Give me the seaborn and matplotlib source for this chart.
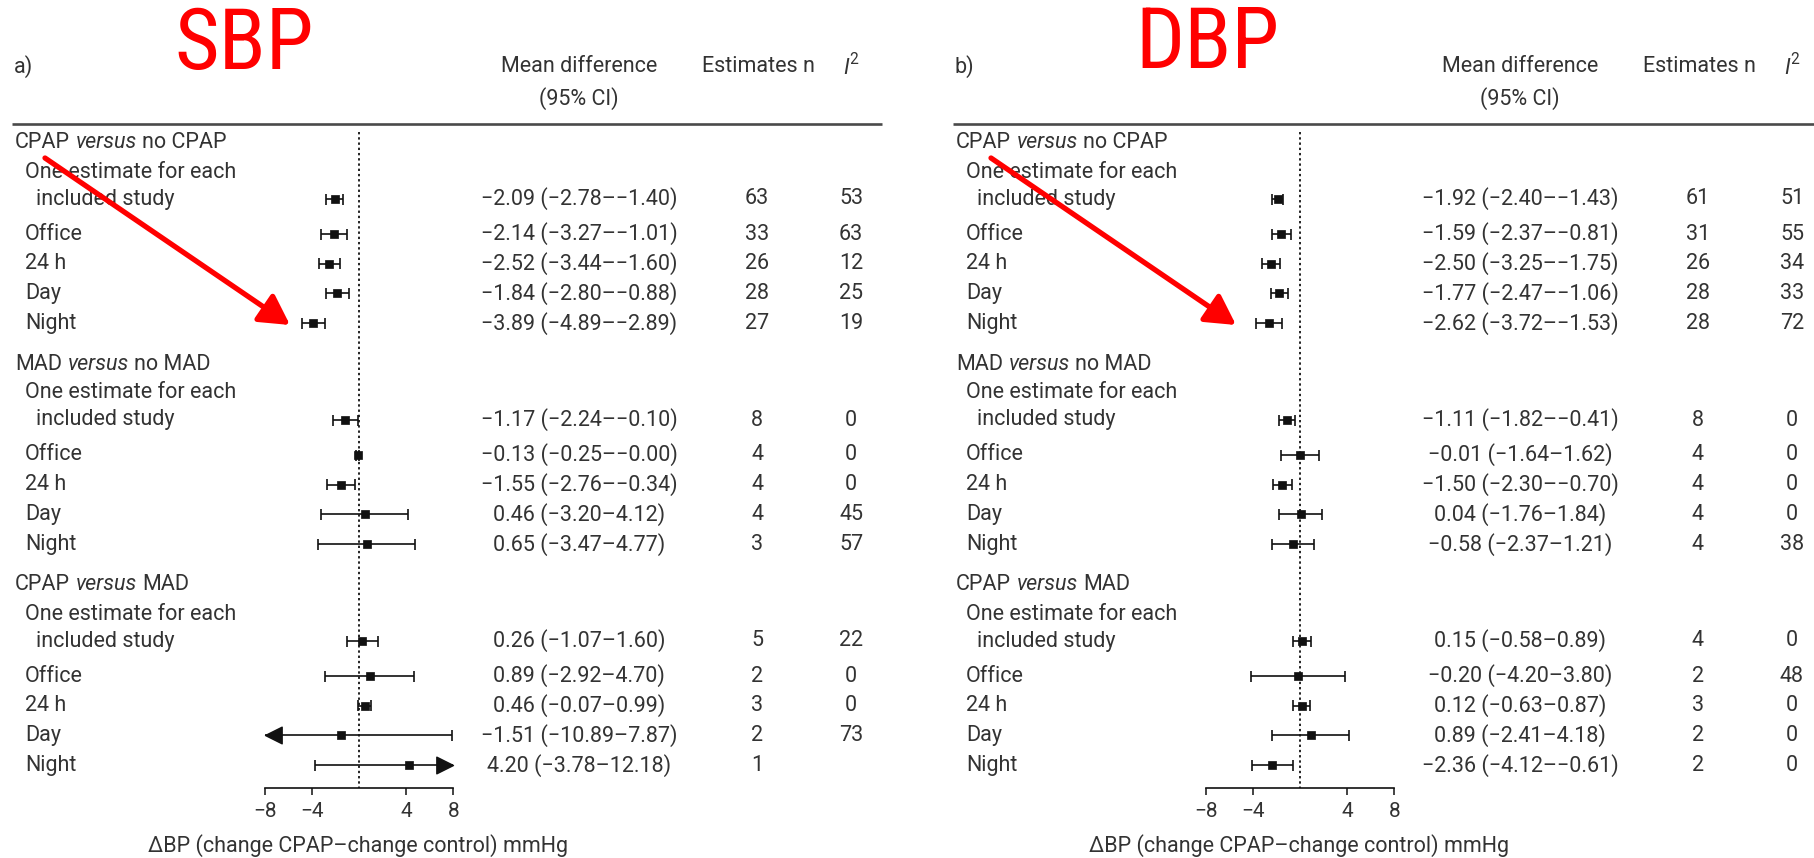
import matplotlib
matplotlib.use("Agg")
import matplotlib.pyplot as plt
import seaborn as sns
import pandas as pd
from matplotlib.path import Path
from matplotlib import font_manager
from matplotlib.font_manager import FontProperties

sns.set_theme(style="white")
plt.rcParams["font.family"] = ["Roboto", "DejaVu Sans"]

# ---------------------------------------------------------------- data
comparisons = [("CPAP", "no CPAP"), ("MAD", "no MAD"), ("CPAP", "MAD")]
outcomes = ["One estimate for each included study", "Office", "24 h", "Day", "Night"]

sbp_mean = [-2.09, -2.14, -2.52, -1.84, -3.89,
            -1.17, -0.13, -1.55, 0.46, 0.65,
            0.26, 0.89, 0.46, -1.51, 4.20]
sbp_lo = [-2.78, -3.27, -3.44, -2.80, -4.89,
          -2.24, -0.25, -2.76, -3.20, -3.47,
          -1.07, -2.92, -0.07, -10.89, -3.78]
sbp_hi = [-1.40, -1.01, -1.60, -0.88, -2.89,
          -0.10, -0.00, -0.34, 4.12, 4.77,
          1.60, 4.70, 0.99, 7.87, 12.18]
sbp_n = [63, 33, 26, 28, 27, 8, 4, 4, 4, 3, 5, 2, 3, 2, 1]
sbp_i2 = [53, 63, 12, 25, 19, 0, 0, 0, 45, 57, 22, 0, 0, 73, None]

dbp_mean = [-1.92, -1.59, -2.50, -1.77, -2.62,
            -1.11, -0.01, -1.50, 0.04, -0.58,
            0.15, -0.20, 0.12, 0.89, -2.36]
dbp_lo = [-2.40, -2.37, -3.25, -2.47, -3.72,
          -1.82, -1.64, -2.30, -1.76, -2.37,
          -0.58, -4.20, -0.63, -2.41, -4.12]
dbp_hi = [-1.43, -0.81, -1.75, -1.06, -1.53,
          -0.41, 1.62, -0.70, 1.84, 1.21,
          0.89, 3.80, 0.87, 4.18, -0.61]
dbp_n = [61, 31, 26, 28, 28, 8, 4, 4, 4, 4, 4, 2, 3, 2, 2]
dbp_i2 = [51, 55, 34, 33, 72, 0, 0, 0, 0, 38, 0, 48, 0, 0, 0]

panel_tags = ["a)", "b)"]
panel_titles = ["SBP", "DBP"]
x_ticks = [-8, -4, 4, 8]
x_limit = 8
x_label = "\u0394BP (change CPAP\u2013change control) mmHg"

# ---------------------------------------------------------------- layout (pixels)
W, H = 1814, 858
DPI = 100
TEXT = "#333333"
INK = "#111111"
FS = 15.5

PANEL_SHIFT = 941
AX_L, AX_R, AX_BOTTOM = 265.0, 453.3, 788.0
GROUP_TOP, GROUP_STEP = 143.0, 221.0
FIRST_LINE, FIRST_ROW, SECOND_ROW, ROW_STEP = 29.0, 56.0, 35.0, 29.7


def narrow_font():
    """Pick a condensed sans face for the big red titles, if one is installed."""
    preferred = ["Liberation Sans Narrow", "Roboto Condensed", "Noto Sans Condensed",
                 "DejaVu Sans Condensed", "Open Sans Condensed", "Noto Sans", "DejaVu Sans"]
    condensed = []
    for f in font_manager.fontManager.ttflist:
        label = (f.name + " " + f.fname).lower()
        is_narrow = ("narrow" in label or "condensed" in label
                     or f.stretch in ("condensed", "semi-condensed", "extra-condensed"))
        if not is_narrow or f.style != "normal":
            continue
        if "semi" in label or "extra" in label or "ultra" in label:
            continue
        w = f.weight if isinstance(f.weight, int) else 400
        if w != 400:
            continue
        condensed.append(f)
    for name in preferred:
        for f in condensed:
            if f.name == name:
                return FontProperties(fname=f.fname)
    if condensed:
        return FontProperties(fname=condensed[0].fname)
    return FontProperties(family=["Liberation Sans", "DejaVu Sans"])


TITLE_FONT = narrow_font()


def row_positions():
    heads, first_lines, rows = [], [], []
    for g in range(len(comparisons)):
        top = GROUP_TOP + g * GROUP_STEP
        heads.append(top)
        first_lines.append(top + FIRST_LINE)
        ys = [top + FIRST_ROW]
        ys.append(ys[-1] + SECOND_ROW)
        for _ in range(len(outcomes) - 2):
            ys.append(ys[-1] + ROW_STEP)
        rows.extend(ys)
    return heads, first_lines, rows


heads, first_lines, row_y = row_positions()


def fmt(v):
    return f"{v:.2f}".replace("-", "\u2212")


fig = plt.figure(figsize=(W / DPI, H / DPI), dpi=DPI)
fig.patch.set_facecolor("white")
bg = fig.add_axes([0, 0, 1, 1])
bg.set_xlim(0, W)
bg.set_ylim(H, 0)
bg.axis("off")
renderer = fig.canvas.get_renderer()


def text_width(s, **kw):
    t = bg.text(0, 0, s, fontsize=FS, **kw)
    w = t.get_window_extent(renderer).width
    t.remove()
    return w


SPACE = text_width("n n") - text_width("nn")


def rich_line(x, y, parts):
    for i, (s, style) in enumerate(parts):
        if i:
            x += SPACE
        t = bg.text(x, y, s, fontsize=FS, style=style, color=TEXT,
                    ha="left", va="center")
        x += t.get_window_extent(renderer).width


panels = [
    dict(mean=sbp_mean, lo=sbp_lo, hi=sbp_hi, n=sbp_n, i2=sbp_i2),
    dict(mean=dbp_mean, lo=dbp_lo, hi=dbp_hi, n=dbp_n, i2=dbp_i2),
]

left_head = Path([(0, 0), (1, 0.5), (1, -0.5), (0, 0)],
                 [Path.MOVETO, Path.LINETO, Path.LINETO, Path.CLOSEPOLY])
right_head = Path([(0, 0), (-1, 0.5), (-1, -0.5), (0, 0)],
                  [Path.MOVETO, Path.LINETO, Path.LINETO, Path.CLOSEPOLY])

arrow_spans = [((45, 158), (290, 325)), ((991, 158), (1236, 325))]
title_pos = [(244, 45), (1207, 45)]
xlabel_x = [358, 358 + PANEL_SHIFT]

for p, data in enumerate(panels):
    dx = p * PANEL_SHIFT
    df = pd.DataFrame(data)
    df["y"] = row_y

    # header
    bg.text(14 + dx, 67, panel_tags[p], fontsize=FS, color=TEXT, ha="left", va="center")
    bg.text(579 + dx, 67, "Mean difference", fontsize=FS, color=TEXT, ha="center", va="center")
    bg.text(579 + dx, 99, "(95% CI)", fontsize=FS, color=TEXT, ha="center", va="center")
    bg.text(758 + dx, 67, "Estimates n", fontsize=FS, color=TEXT, ha="center", va="center")
    bg.text(846 + dx, 68, "I", fontsize=FS, style="italic", color=TEXT, ha="center", va="center")
    bg.text(854 + dx, 60, "2", fontsize=FS * 0.72, color=TEXT, ha="center", va="center")
    rule_end = 882 + dx if p == 0 else W
    bg.plot([12 + dx, rule_end], [124, 124], color="#4a4a4a", lw=1.9, solid_capstyle="butt")

    # row labels
    for g, (a, b) in enumerate(comparisons):
        rich_line(15 + dx, heads[g], [(a, "normal"), ("versus", "italic"), (b, "normal")])
        bg.text(25 + dx, first_lines[g], "One estimate for each", fontsize=FS,
                color=TEXT, ha="left", va="center")
        for k, name in enumerate(outcomes):
            y = row_y[g * len(outcomes) + k]
            if k == 0:
                bg.text(36 + dx, y, "included study", fontsize=FS, color=TEXT,
                        ha="left", va="center")
            else:
                bg.text(25 + dx, y, name, fontsize=FS, color=TEXT, ha="left", va="center")

    # value columns
    for _, r in df.iterrows():
        bg.text(579 + dx, r.y, f"{fmt(r['mean'])} ({fmt(r.lo)}\u2013{fmt(r.hi)})",
                fontsize=FS, color=TEXT, ha="center", va="center")
        bg.text(757 + dx, r.y, str(int(r.n)), fontsize=FS, color=TEXT,
                ha="center", va="center")
        if pd.notna(r.i2):
            bg.text(851 + dx, r.y, str(int(r.i2)), fontsize=FS, color=TEXT,
                    ha="center", va="center")

    # forest axes: one data unit on y equals one pixel row
    ax = fig.add_axes([(AX_L + dx) / W, (H - AX_BOTTOM) / H,
                       (AX_R - AX_L) / W, AX_BOTTOM / H])
    ax.patch.set_alpha(0)
    ax.set_xlim(-x_limit, x_limit)
    ax.set_ylim(AX_BOTTOM, 0)

    ax.vlines(0, 132, AX_BOTTOM, colors=INK, linestyles=(0, (1.3, 1.6)), lw=1.3, zorder=1)

    lo_c = df.lo.clip(lower=-x_limit)
    hi_c = df.hi.clip(upper=x_limit)
    ax.hlines(df.y, lo_c, hi_c, colors=INK, lw=1.2, zorder=2)
    cap = 5.5
    lo_cap = df.lo >= -x_limit
    hi_cap = df.hi <= x_limit
    ax.vlines(df.lo[lo_cap], df.y[lo_cap] - cap, df.y[lo_cap] + cap, colors=INK, lw=1.2)
    ax.vlines(df.hi[hi_cap], df.y[hi_cap] - cap, df.y[hi_cap] + cap, colors=INK, lw=1.2)
    if (~lo_cap).any():
        ax.plot(lo_c[~lo_cap], df.y[~lo_cap], ls="none", marker=left_head,
                ms=24, color=INK, mec=INK, clip_on=False)
    if (~hi_cap).any():
        ax.plot(hi_c[~hi_cap], df.y[~hi_cap], ls="none", marker=right_head,
                ms=24, color=INK, mec=INK, clip_on=False)

    sns.scatterplot(data=df, x="mean", y="y", marker="s", s=38, color=INK,
                    edgecolor=INK, linewidth=0.5, ax=ax, zorder=3, legend=False,
                    clip_on=False)

    for side in ["left", "right", "top"]:
        ax.spines[side].set_visible(False)
    ax.spines["bottom"].set_color(INK)
    ax.spines["bottom"].set_linewidth(1.2)
    ax.set_yticks([])
    ax.set_xticks(x_ticks, [fmt(t).replace(".00", "") for t in x_ticks])
    ax.tick_params(axis="x", bottom=True, direction="out", length=5, width=1.1,
                   color=INK, pad=5, labelsize=15, labelcolor=TEXT)
    ax.set_xlabel("")
    ax.set_ylabel("")
    ax.grid(False)

    bg.text(xlabel_x[p], 846, x_label, fontsize=FS, color=TEXT, ha="center", va="center")

    # red title and pointer
    bg.text(*title_pos[p], panel_titles[p], fontsize=62, color="#ff0000",
            fontproperties=TITLE_FONT, ha="center", va="center")
    tail, head = arrow_spans[p]
    bg.annotate("", xy=head, xytext=tail,
                arrowprops=dict(arrowstyle="-|>,head_length=0.9,head_width=0.5",
                                mutation_scale=20, color="#ff0000", lw=3.8,
                                shrinkA=0, shrinkB=0))

fig.savefig("out.png", dpi=DPI, facecolor="white")
